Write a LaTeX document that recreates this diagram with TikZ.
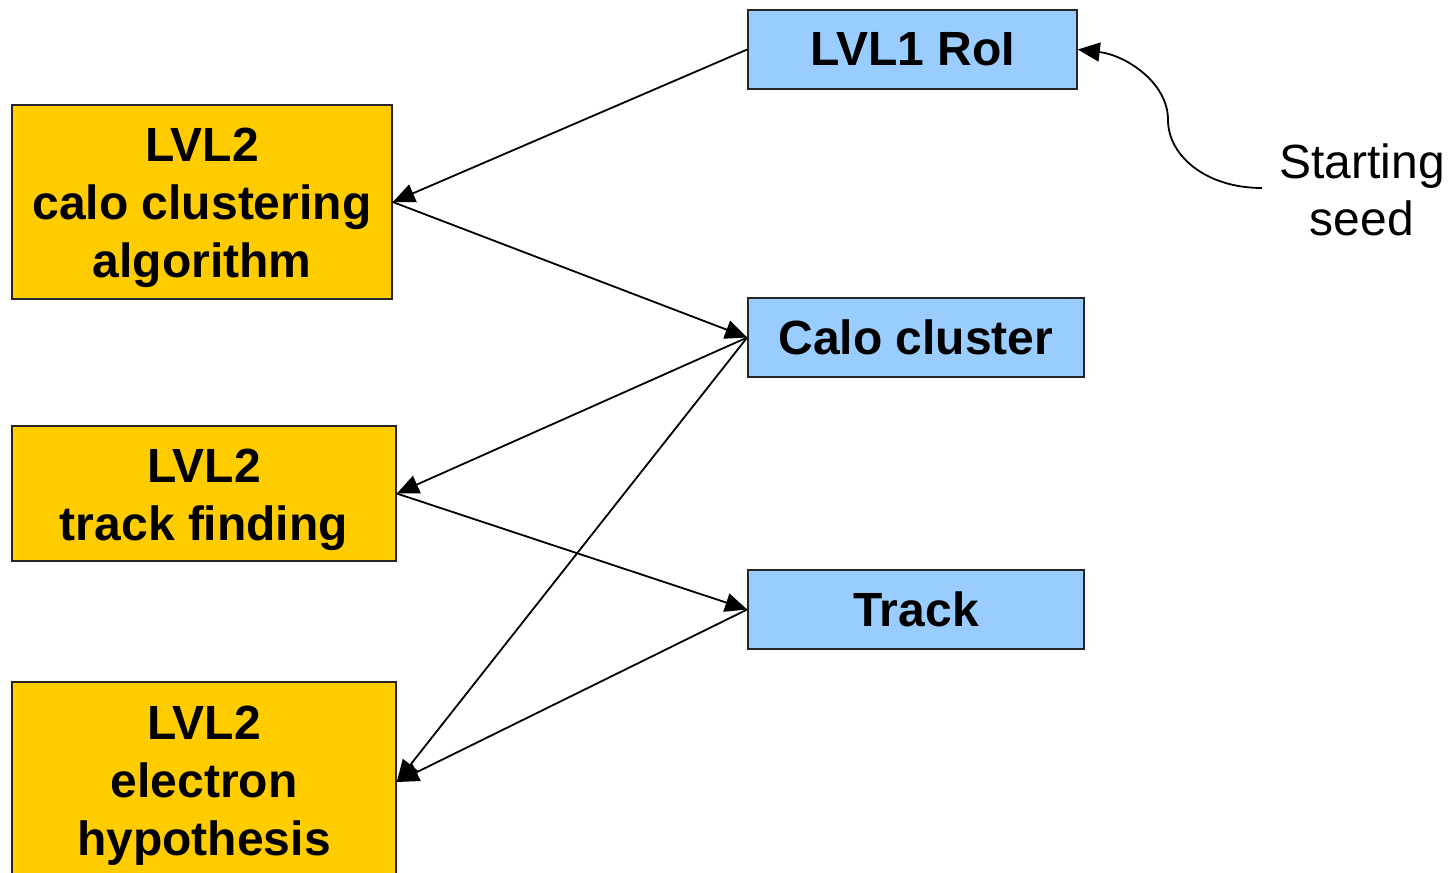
\documentclass[tikz,border=0pt]{standalone}
\usepackage{fontspec}
\setmainfont{Liberation Sans}
\usetikzlibrary{arrows.meta}
\definecolor{gold}{HTML}{FFCC00}
\definecolor{sky}{HTML}{99CCFF}
\begin{document}
\begin{tikzpicture}[x=1pt,y=-1pt,
  box/.style={draw=black!85,line width=1.6pt,inner sep=0pt,align=center,
    font=\fontsize{48}{58}\selectfont\bfseries},
  algbox/.style={box,fill=gold},
  databox/.style={box,fill=sky},
  boxtext/.style={align=center,font=\fontsize{48}{58}\selectfont\bfseries,yshift=-6pt},
  conn/.style={line width=1.8pt,-{Triangle[length=22pt,width=19pt]}},
  lbl/.style={align=center,font=\fontsize{48}{57}\selectfont}]
\clip (0,0) rectangle (1452,873);
\node[databox,minimum width=329pt,minimum height=79pt] (roi) at (912.5,49.5) {LVL1 RoI};
\node[algbox,minimum width=380pt,minimum height=194pt,
  label={[boxtext]center:LVL2\\calo clustering\\algorithm}] (calo) at (202,202) {};
\node[databox,minimum width=336pt,minimum height=79pt] (cluster) at (916,337.5) {Calo cluster};
\node[algbox,minimum width=384pt,minimum height=135pt,
  label={[boxtext]center:LVL2\\track finding}] (trk) at (204,493.5) {};
\node[databox,minimum width=336pt,minimum height=79pt] (track) at (916,609.5) {Track};
\node[algbox,minimum width=384pt,minimum height=200pt,
  label={[boxtext,yshift=2pt]center:LVL2\\electron\\hypothesis}] (ele) at (204,782) {};
\node[lbl] (seed) at (1362,190) {Starting\\seed};
\coordinate (seedend) at (1262,188);
\draw[conn] (roi.west) -- (calo.east);
\draw[conn] (calo.east) -- (cluster.west);
\draw[conn] (cluster.west) -- (trk.east);
\draw[conn] (trk.east) -- (track.west);
\draw[conn] (cluster.west) -- (ele.east);
\draw[conn] (track.west) -- (ele.east);
\draw[conn] (seedend) .. controls (1205,188) and (1168,155) .. (1168,120)
  .. controls (1168,82) and (1125,55) .. (roi.east);
\end{tikzpicture}
\end{document}
